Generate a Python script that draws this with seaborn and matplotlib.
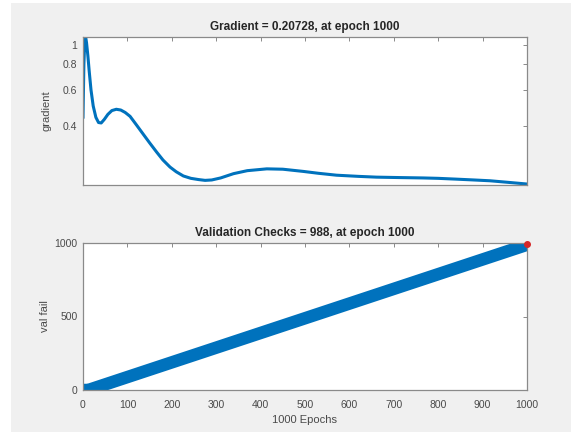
import matplotlib
matplotlib.use("Agg")
import matplotlib.pyplot as plt
import seaborn as sns
import pandas as pd
from matplotlib.patches import Rectangle

# ---- data ----
grad_epochs = [0, 2, 4, 6, 8, 11, 14, 18, 23, 29, 35, 41, 48, 56, 65, 75,
               85, 95, 106, 120, 136, 150, 166, 180, 196, 210, 226, 243,
               260, 275, 290, 310, 339, 370, 414, 450, 496, 530, 571, 620,
               661, 710, 766, 800, 841, 880, 917, 960, 1000]
grad_values = [0.437, 0.8, 1.05, 1.09, 1.02, 0.88, 0.74, 0.6, 0.5, 0.44,
               0.415, 0.413, 0.43, 0.455, 0.475, 0.482, 0.478, 0.465, 0.445,
               0.405, 0.363, 0.33, 0.297, 0.272, 0.251, 0.238, 0.227, 0.221,
               0.218, 0.216, 0.217, 0.222, 0.233, 0.241, 0.246, 0.245, 0.239,
               0.234, 0.229, 0.226, 0.224, 0.223, 0.222, 0.221, 0.219, 0.217,
               0.215, 0.211, 0.20728]

valfail_epochs = [0, 12, 1000]
valfail_values = [0, 0, 988]

xticks = [0, 100, 200, 300, 400, 500, 600, 700, 800, 900, 1000]
grad_yticks = [0.4, 0.6, 0.8, 1]
grad_yticklabels = ["0.4", "0.6", "0.8", "1"]
vf_yticks = [0, 500, 1000]

title_top = "Gradient = 0.20728, at epoch 1000"
title_bot = "Validation Checks = 988, at epoch 1000"

sns.set_theme(style="white")
plt.rcParams["font.family"] = ["Liberation Sans", "DejaVu Sans"]

W, H = 571, 432
fig = plt.figure(figsize=(W / 100, H / 100), dpi=100)
fig.patch.set_facecolor("#f0f0f0")
# white margin strips (left and top) seen in the screenshot
fig.patches.append(Rectangle((0, 0), 11 / W, 1, transform=fig.transFigure,
                             facecolor="white", edgecolor="none", zorder=-10))
fig.patches.append(Rectangle((0, 1 - 3 / H), 1, 3 / H, transform=fig.transFigure,
                             facecolor="white", edgecolor="none", zorder=-10))

def px_axes(l, r, t, b):
    return fig.add_axes([l / W, 1 - b / H, (r - l) / W, (b - t) / H])

ax1 = px_axes(83, 527, 37, 185)
ax2 = px_axes(83, 527, 243, 390)

blue = "#0072BD"
tick_col = "#4a4a4a"
spine_col = "#8a8a8a"

df1 = pd.DataFrame({"epoch": grad_epochs, "gradient": grad_values})
sns.lineplot(data=df1, x="epoch", y="gradient", ax=ax1, color=blue, lw=2.2)
ax1.set_yscale("log")
ax1.set_ylim(0.205, 1.09)
ax1.set_xlim(0, 1000)
ax1.set_xticks(xticks)
ax1.set_xticklabels([])
ax1.set_yticks(grad_yticks)
ax1.set_yticklabels(grad_yticklabels)
ax1.minorticks_off()
ax1.set_xlabel("")
ax1.set_ylabel("gradient", fontsize=8, color=tick_col, labelpad=8)
ax1.set_title(title_top, fontsize=8.5, fontweight="bold", color="#262626", pad=5)

df2 = pd.DataFrame({"epoch": valfail_epochs, "val fail": valfail_values})
sns.lineplot(data=df2, x="epoch", y="val fail", ax=ax2, color=blue, lw=9,
             solid_capstyle="round")
ax2.plot([1000], [995], "o", color="#d62728", ms=4, zorder=5, clip_on=False)
ax2.set_xlim(0, 1000)
ax2.set_ylim(0, 1000)
ax2.set_xticks(xticks)
ax2.set_yticks(vf_yticks)
ax2.set_xlabel("1000 Epochs", fontsize=8, color=tick_col, labelpad=4)
ax2.set_ylabel("val fail", fontsize=8, color=tick_col, labelpad=3)
ax2.set_title(title_bot, fontsize=8.5, fontweight="bold", color="#262626", pad=5)

for ax in (ax1, ax2):
    ax.set_facecolor("white")
    ax.set_zorder(2)
    for s in ax.spines.values():
        s.set_visible(True)
        s.set_color(spine_col)
        s.set_linewidth(0.9)
    ax.tick_params(direction="in", length=3, width=0.7, color=spine_col,
                   labelsize=7.5, labelcolor=tick_col, top=True, right=True)
    ax.tick_params(axis="x", pad=7)
    ax.tick_params(axis="y", pad=4)

fig.savefig("out.png", dpi=100, facecolor=fig.get_facecolor())
